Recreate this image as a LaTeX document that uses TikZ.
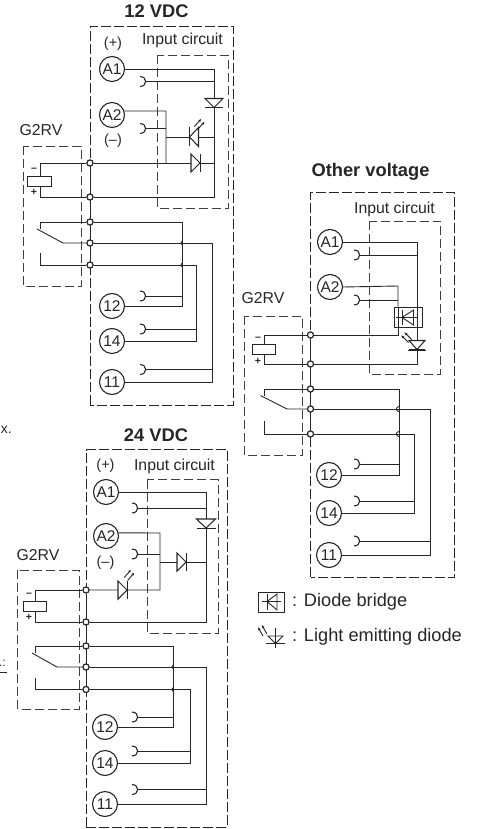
\documentclass[tikz,border=0pt]{standalone}
\usepackage{fontspec}
\setmainfont{Liberation Sans}
\usetikzlibrary{arrows.meta}
\definecolor{ink}{HTML}{262626}
\definecolor{boxgrey}{HTML}{404040}
\tikzset{
  wire/.style={draw=ink,line width=0.9pt,line join=miter},
  outerbox/.style={draw=ink,line width=0.9pt,dash pattern=on 10pt off 3pt},
  relaybox/.style={draw=boxgrey,line width=0.9pt,dash pattern=on 9pt off 4pt},
  inputbox/.style={draw=boxgrey,line width=0.9pt,dash pattern=on 9pt off 4pt},
  terminal/.style={circle,draw=ink,line width=1.1pt,fill=white,minimum size=25pt,inner sep=0pt,text=ink,font=\fontsize{15.5}{15.5}\selectfont},
  jn/.style={circle,draw=ink,line width=1.1pt,fill=white,minimum size=6pt,inner sep=0pt},
  coil/.style={rectangle,draw=ink,line width=0.9pt,fill=white,minimum width=23.5pt,minimum height=10pt,inner sep=0pt},
  bridge/.style={rectangle,draw=ink,line width=0.9pt,fill=white,inner sep=0pt},
  lab/.style={text=ink,inner sep=0pt,font=\fontsize{15.8}{15.8}\selectfont},
  paren/.style={text=ink,inner sep=0pt,font=\fontsize{14.5}{14.5}\selectfont},
  heading/.style={text=ink,inner sep=0pt,font=\bfseries\fontsize{18.3}{18.3}\selectfont},
  legendtext/.style={text=ink,inner sep=0pt,anchor=west,font=\fontsize{18.2}{18.2}\selectfont},
  sign/.style={text=ink,inner sep=0pt,font=\bfseries\fontsize{10.5}{10.5}\selectfont},
}
% hook contact: #1 name, #2 x, #3 y; name is the point of the curve facing the wire
\newcommand{\hookc}[3]{%
  \coordinate (#1) at (#2,#3);
  \draw[wire,line width=1.1pt] (#2-6,#3-4.9) .. controls (#2+1.5,#3-5.2) and (#2+1.5,#3+5.2) .. (#2-6,#3+4.9);}
\newcommand{\jnc}[3]{\node[jn] (#1) at (#2,#3) {};}
% diode #1 x, #2 y, #3 rotation (0 = points right), #4 half-width of the symbol
\newcommand{\diodec}[4]{%
  \begin{scope}[shift={(#1,#2)},rotate=#3]
    \draw[wire,line width=1.05pt,fill=white] (-4.5,-#4) -- (-4.5,#4) -- (4.5,0) -- cycle;
    \draw[wire] (4.5,-#4) -- (4.5,#4);
  \end{scope}}
% light arrows #1 x, #2 y, #3 direction angle
\newcommand{\lightc}[3]{%
  \begin{scope}[shift={(#1,#2)},rotate=#3]
    \draw[draw=ink,line width=0.9pt,-{Stealth[length=3pt,width=2.8pt]}] (0,-2.2) -- (10,-2.2);
    \draw[draw=ink,line width=0.9pt,-{Stealth[length=3pt,width=2.8pt]}] (0,2.2) -- (10,2.2);
  \end{scope}}
\begin{document}
\begin{tikzpicture}[x=1pt,y=-1pt]
\useasboundingbox (0,0) rectangle (479,829);

%%% stray text at the page edge
\node[text=ink,inner sep=0pt,anchor=east,font=\fontsize{14}{14}\selectfont] (strayx) at (12,430) {x.};
\node[text=ink,inner sep=0pt,anchor=east,font=\fontsize{12}{12}\selectfont] (straydots) at (6,663) {.:};
\draw[draw=ink,line width=0.9pt] (0,672) -- (7,672);

%%%%%%%%%%%%%%%%%%%% 12 VDC
\node[heading] (t12) at (156.5,11) {12 VDC};
\node[lab] (inp12) at (182.5,40) {Input circuit};
\node[lab] (g12) at (41,130) {G2RV};
\node[paren] (plus12) at (113,44) {(+)};
\node[paren] (minus12) at (113,141) {(–)};
\draw[outerbox] (90,405) -- (90,26) -- (233,26) -- (233,405) -- cycle;
\draw[inputbox] (157,55) rectangle (228,208.5);
\draw[relaybox] (23,146) rectangle (81,286);
\node[terminal] (a1a) at (112,69) {A1};
\node[terminal] (a2a) at (112,115) {A2};
\node[terminal] (t12a) at (112,306) {12};
\node[terminal] (t14a) at (112,341) {14};
\node[terminal] (t11a) at (112,382) {11};
\hookc{ha1a}{146}{81.5}
\hookc{ha2a}{146}{128.5}
\hookc{h12a}{146}{296}
\hookc{h14a}{146}{329}
\hookc{h11a}{146}{369.5}
\coordinate (ra) at (214,69);
\coordinate (rb) at (214,197);
\coordinate (ma) at (166,111);
\coordinate (mb) at (166,163);
\coordinate (cta) at (40,222);
\coordinate (ctb) at (63,243);
\coordinate (cte) at (37,229);
\coordinate (ctc) at (40,253);
\coordinate (ctd) at (40,265);
\coordinate (wa) at (182,222);
\coordinate (wb) at (196,265);
\coordinate (wc) at (212,243);
\jnc{j1a}{90}{163}\jnc{j2a}{90}{197}\jnc{j3a}{90}{222}\jnc{j4a}{90}{243}\jnc{j5a}{90}{265}
\node[coil] (coila) at (39.5,181) {};
\draw[wire] (j1a) -- (j5a);
\draw[wire] (a1a.east) -- (ra) -- (rb) -- (j2a);
\draw[wire] (ha1a) -- (ha1a -| ra);
\draw[wire] (a2a.18) -- (ma) -- (mb);
\draw[wire] (ha2a) -- (ha2a -| ma);
\draw[wire] (166,137) -- (214,137);
\draw[wire] (j1a) -- (214,163);
\draw[wire] (coila.north -| 40,0) -- (40,163) -- (j1a);
\draw[wire] (coila.south -| 40,0) -- (40,197) -- (j2a);
\draw[wire] (j3a) -- (cta) -- (cta|-cte);
\draw[wire] (cte) -- (ctb) -- (j4a);
\draw[wire] (ctc) -- (ctd) -- (j5a);
\draw[wire] (j3a) -- (wa) -- (wa|-t12a) -- (t12a.east);
\draw[wire] (h12a) -- (h12a-|wa);
\draw[wire] (j4a) -- (wc) -- (wc|-t11a) -- (t11a.east);
\draw[wire] (h11a) -- (h11a-|wc);
\draw[wire] (j5a) -- (wb) -- (wb|-t14a) -- (t14a.east);
\draw[wire] (h14a) -- (h14a-|wb);
\draw[wire,line width=0.8pt] (182,241) .. controls (180.5,241.5) and (180.5,244.5) .. (182,245);
\draw[wire,line width=0.8pt] (182,263) .. controls (180.5,263.5) and (180.5,266.5) .. (182,267);
\diodec{214}{103}{-90}{9}
\diodec{194}{137}{180}{9.5}
\diodec{195.5}{163}{0}{9}
\lightc{196}{128}{48}
\node[jn] at (j1a) {};\node[jn] at (j2a) {};\node[jn] at (j3a) {};\node[jn] at (j4a) {};\node[jn] at (j5a) {};
\node[sign] (ma12) at (34,170) {–};
\node[sign] (pa12) at (34,192) {+};

%%%%%%%%%%%%%%%%%%%% 24 VDC
\node[heading] (t24) at (156,435) {24 VDC};
\node[lab] (inp24) at (174.5,466) {Input circuit};
\node[lab] (g24) at (38,555) {G2RV};
\node[paren] (plus24) at (105.5,466) {(+)};
\node[paren] (minus24) at (105.5,563) {(–)};
\draw[outerbox] (86,827) -- (86,449.5) -- (227,449.5) -- (227,827) -- cycle;
\draw[inputbox] (147,479.5) rectangle (218,633);
\draw[relaybox] (17.5,570) rectangle (79,709);
\node[terminal] (a1b) at (106,492) {A1};
\node[terminal] (a2b) at (106,536) {A2};
\node[terminal] (t12b) at (105,727) {12};
\node[terminal] (t14b) at (105,763) {14};
\node[terminal] (t11b) at (105,804) {11};
\hookc{ha1b}{138}{508}
\hookc{ha2b}{138}{554}
\hookc{h12b}{138}{717}
\hookc{h14b}{138}{751}
\hookc{h11b}{138}{789.5}
\coordinate (rc) at (206,492);
\coordinate (rd) at (206,622);
\coordinate (mc) at (160,533);
\coordinate (md) at (160,590);
\coordinate (ctf) at (35,646);
\coordinate (ctg) at (57,667);
\coordinate (cth) at (32,653);
\coordinate (cti) at (35,678);
\coordinate (ctj) at (35,689.5);
\coordinate (wd) at (173,646);
\coordinate (we) at (190,689.5);
\coordinate (wf) at (206,667);
\jnc{j1b}{86}{590}\jnc{j2b}{86}{622}\jnc{j3b}{86}{646}\jnc{j4b}{86}{667}\jnc{j5b}{86}{689.5}
\node[coil] (coilb) at (35,606) {};
\draw[wire] (j1b) -- (j5b);
\draw[wire] (a1b.east) -- (rc) -- (rd) -- (j2b);
\draw[wire] (ha1b) -- (ha1b -| rc);
\draw[wire] (a2b.14) -- (mc) -- (md) -- (j1b);
\draw[wire] (ha2b) -- (ha2b -| mc);
\draw[wire] (160,562) -- (206,562);
\draw[wire] (coilb.north) -- (35,590) -- (j1b);
\draw[wire] (coilb.south) -- (35,622) -- (j2b);
\draw[wire] (j3b) -- (ctf) -- (ctf|-cth);
\draw[wire] (cth) -- (ctg) -- (j4b);
\draw[wire] (cti) -- (ctj) -- (j5b);
\draw[wire] (j3b) -- (wd) -- (wd|-t12b) -- (t12b.east);
\draw[wire] (h12b) -- (h12b-|wd);
\draw[wire] (j4b) -- (wf) -- (wf|-t11b) -- (t11b.east);
\draw[wire] (h11b) -- (h11b-|wf);
\draw[wire] (j5b) -- (we) -- (we|-t14b) -- (t14b.east);
\draw[wire] (h14b) -- (h14b-|we);
\draw[wire,line width=0.8pt] (173,665) .. controls (171.5,665.5) and (171.5,668.5) .. (173,669);
\draw[wire,line width=0.8pt] (173,687.5) .. controls (171.5,688) and (171.5,691) .. (173,691.5);
\diodec{206}{523.5}{-90}{9.5}
\diodec{181.5}{562}{0}{9}
\diodec{122.5}{590}{0}{9}
\lightc{126}{579}{50}
\node[jn] at (j1b) {};\node[jn] at (j2b) {};\node[jn] at (j3b) {};\node[jn] at (j4b) {};\node[jn] at (j5b) {};
\node[sign] (mb24) at (29,595) {–};
\node[sign] (pb24) at (29,617) {+};

%%%%%%%%%%%%%%%%%%%% Other voltage
\node[heading] (tov) at (370.5,172) {Other voltage};
\node[lab] (inpo) at (394.5,209) {Input circuit};
\node[lab] (go) at (263,298) {G2RV};
\draw[outerbox] (310.5,577) -- (310.5,192) -- (454,192) -- (454,577) -- cycle;
\draw[inputbox] (369.5,221) rectangle (440.5,374.5);
\draw[relaybox] (244,316) rectangle (302.5,455);
\node[terminal] (a1c) at (330,242) {A1};
\node[terminal] (a2c) at (330,287) {A2};
\node[terminal] (t12c) at (329,475) {12};
\node[terminal] (t14c) at (329,513) {14};
\node[terminal] (t11c) at (329,555) {11};
\hookc{ha1c}{360}{255}
\hookc{ha2c}{360}{300}
\hookc{h12c}{360}{464}
\hookc{h14c}{360}{501}
\hookc{h11c}{360}{541}
\node[bridge,minimum width=27.5pt,minimum height=20pt] (brc) at (408.5,317) {};
\coordinate (rg) at (417,242);
\coordinate (rh) at (417,364);
\coordinate (mg) at (398,286);
\coordinate (mh) at (398,335);
\coordinate (ctk) at (264,389);
\coordinate (ctl) at (287,409);
\coordinate (ctm) at (260.5,395.5);
\coordinate (ctn) at (264,421);
\coordinate (cto) at (264,434);
\coordinate (wg) at (399,389);
\coordinate (wh) at (414.5,434);
\coordinate (wi) at (430,409);
\jnc{j1c}{310.5}{335}\jnc{j2c}{310.5}{364}\jnc{j3c}{310.5}{389}\jnc{j4c}{310.5}{409}\jnc{j5c}{310.5}{434}
\node[coil] (coilc) at (264,349.5) {};
\draw[wire] (j1c) -- (j5c);
\draw[wire] (a1c.east) -- (rg) -- (rg|-brc.north);
\draw[wire] (rg|-brc.south) -- (rh) -- (j2c);
\draw[wire] (ha1c) -- (ha1c -| rg);
\draw[wire] (a2c.east) -- (mg) -- (mg|-brc.north);
\draw[wire] (mg|-brc.south) -- (mh) -- (j1c);
\draw[wire] (ha2c) -- (ha2c -| mg);
\draw[wire] (coilc.north) -- (264,335) -- (j1c);
\draw[wire] (coilc.south) -- (264,364) -- (j2c);
\draw[wire] (j3c) -- (ctk) -- (ctk|-ctm);
\draw[wire] (ctm) -- (ctl) -- (j4c);
\draw[wire] (ctn) -- (cto) -- (j5c);
\draw[wire] (j3c) -- (wg) -- (wg|-t12c) -- (t12c.east);
\draw[wire] (h12c) -- (h12c-|wg);
\draw[wire] (j4c) -- (wi) -- (wi|-t11c) -- (t11c.east);
\draw[wire] (h11c) -- (h11c-|wi);
\draw[wire] (j5c) -- (wh) -- (wh|-t14c) -- (t14c.east);
\draw[wire] (h14c) -- (h14c-|wh);
\draw[wire,line width=0.9pt] (399,406.5) .. controls (395.5,407) and (395.5,411) .. (399,411.5);
\draw[wire,line width=0.9pt] (399,431.5) .. controls (395.5,432) and (395.5,436) .. (399,436.5);
% diode inside the bridge
\draw[wire] (396,317) -- (418,317);
\draw[wire] (398,307) -- (398,327);
\draw[wire] (417,307) -- (417,327);
\draw[wire] (413.5,310) -- (413.5,325) -- (402,317.5) -- cycle;
\draw[wire] (402,310) -- (402,325);
\diodec{417}{345}{-90}{8}
\draw[wire] (408,350) -- (426,350);
\lightc{410}{341}{-225}
\node[jn] at (j1c) {};\node[jn] at (j2c) {};\node[jn] at (j3c) {};\node[jn] at (j4c) {};\node[jn] at (j5c) {};
\node[sign] (moth) at (258,339) {–};
\node[sign] (poth) at (258,361) {+};

%%%%%%%%%%%%%%%%%%%% Legend
\node[bridge,minimum width=25.5pt,minimum height=20pt] (lgb) at (271.5,602) {};
\draw[wire] (262,601.5) -- (281,601.5);
\draw[wire] (277,594) -- (277,610) -- (267,601.5) -- cycle;
\draw[wire] (267,594) -- (267,610);
\node[legendtext] (lgbt) at (292,602) {: Diode bridge};
\draw[wire] (275.5,628) -- (275.5,648);
\draw[wire] (268,636) -- (283,636) -- (275.5,643.5) -- cycle;
\draw[wire] (265.5,643.5) -- (285,643.5);
\lightc{265}{635}{-240}
\node[legendtext] (lglt) at (292,637) {: Light emitting diode};
\end{tikzpicture}
\end{document}
